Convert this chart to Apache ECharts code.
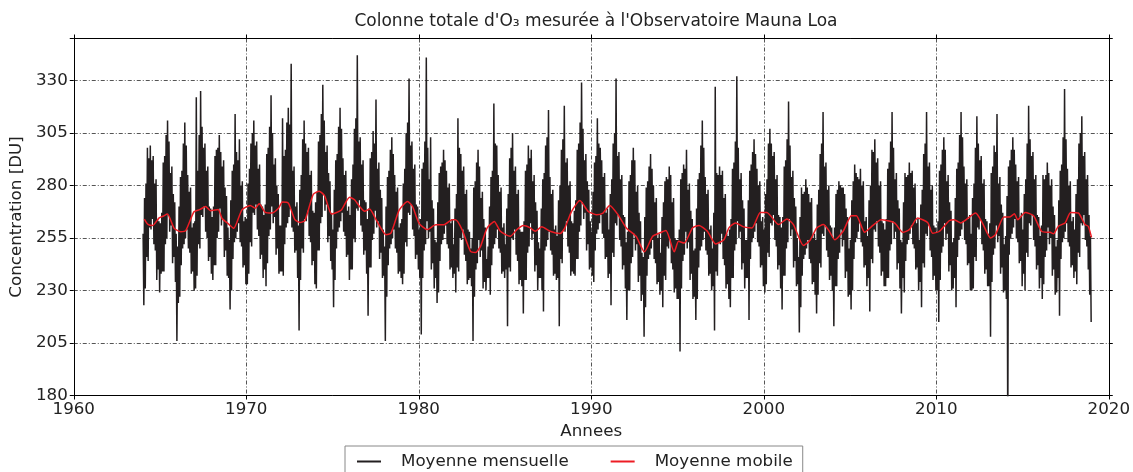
<!DOCTYPE html>
<html><head><meta charset="utf-8">
<script src="https://cdn.jsdelivr.net/npm/echarts@6/dist/echarts.min.js"></script>
<style>html,body{margin:0;padding:0;background:#fff}#c{width:1133px;height:472px}</style>
</head><body><div id="c"></div><script>
const xTickLabels = [1960, 1970, 1980, 1990, 2000, 2010, 2020];
const yTickLabels = [180, 205, 230, 255, 280, 305, 330];
const firstYear = 1964;
const pointsPerYear = 24;
// "Moyenne mensuelle" (black): 24 readings per year, 1964 -> 2018
const monthlyValues = [
/*1964*/ 257,223, 274,231, 281,246, 298,244, 293,260, 299,259, 292,264, 294,252, 281,249, 283,235, 264,240, 263,229,
/*1965*/ 262,238, 267,239, 291,239, 294,252, 304,255, 311,266, 301,258, 286,261, 289,243, 276,246, 272,234, 257,206,
/*1966*/ 251,224, 270,227, 284,242, 287,250, 300,252, 310,255, 299,259, 285,250, 277,248, 279,238, 260,239, 262,230,
/*1967*/ 263,231, 322,237, 287,252, 304,250, 325,266, 308,265, 298,270, 300,258, 287,255, 289,244, 270,246, 269,238,
/*1968*/ 265,235, 270,242, 294,242, 297,255, 298,258, 304,269, 296,261, 289,264, 292,246, 279,249, 275,237, 260,236,
/*1969*/ 254,221, 273,230, 287,245, 290,253, 314,255, 296,258, 292,262, 302,253, 280,251, 282,241, 263,242, 265,233,
/*1970*/ 264,233, 281,238, 288,253, 300,251, 305,267, 311,266, 299,271, 301,259, 288,256, 290,245, 271,247, 270,236,
/*1971*/ 266,240, 271,232, 295,243, 298,256, 308,259, 323,270, 305,262, 290,265, 293,247, 280,250, 276,238, 261,239,
/*1972*/ 261,239, 312,237, 294,252, 297,260, 310,262, 317,265, 309,269, 338,260, 287,258, 289,248, 270,249, 272,236,
/*1973*/ 261,211, 278,235, 285,250, 302,248, 311,264, 300,263, 296,268, 298,256, 285,253, 287,242, 268,244, 267,233,
/*1974*/ 272,231, 277,249, 301,249, 304,262, 314,265, 328,276, 311,268, 296,271, 299,253, 286,256, 282,244, 267,240,
/*1975*/ 259,222, 278,235, 292,250, 295,258, 308,260, 317,263, 307,267, 293,258, 285,256, 287,246, 268,247, 270,235,
/*1976*/ 266,240, 283,240, 290,255, 307,253, 312,269, 342,268, 301,273, 303,261, 290,258, 292,247, 273,249, 272,238,
/*1977*/ 264,218, 269,241, 293,241, 296,254, 306,257, 300,268, 321,260, 288,263, 291,245, 278,248, 274,236, 259,237,
/*1978*/ 251,206, 270,227, 284,242, 287,250, 297,252, 303,255, 295,259, 285,250, 277,248, 279,238, 260,239, 262,236,
/*1979*/ 264,233, 281,238, 288,253, 305,251, 310,267, 331,266, 299,271, 301,259, 288,256, 290,245, 271,247, 270,240,
/*1980*/ 259,236, 264,209, 288,236, 291,249, 301,252, 341,263, 298,255, 283,258, 303,240, 273,243, 269,231, 254,236,
/*1981*/ 253,224, 272,229, 286,244, 289,252, 291,254, 297,257, 292,261, 287,252, 279,250, 281,240, 262,241, 264,236,
/*1982*/ 252,238, 269,229, 276,241, 312,239, 298,255, 295,254, 287,259, 289,247, 276,244, 278,233, 259,235, 258,236,
/*1983*/ 250,232, 255,206, 279,227, 282,240, 291,243, 297,254, 289,246, 274,249, 277,231, 264,234, 260,230, 245,236,
/*1984*/ 251,236, 270,228, 284,242, 287,250, 319,252, 300,255, 299,259, 285,250, 277,248, 279,238, 260,239, 262,236,
/*1985*/ 252,240, 269,213, 276,241, 293,239, 298,255, 305,254, 287,259, 289,247, 276,244, 278,233, 259,235, 258,232,
/*1986*/ 258,219, 263,235, 287,235, 290,248, 299,251, 293,262, 297,254, 282,257, 285,239, 272,242, 268,230, 253,236,
/*1987*/ 250,236, 269,230, 283,220, 286,249, 299,251, 303,254, 316,258, 284,249, 276,247, 278,237, 259,238, 261,235,
/*1988*/ 256,236, 273,213, 280,245, 297,243, 302,259, 318,258, 291,263, 293,251, 280,248, 282,237, 263,239, 262,238,
/*1989*/ 268,237, 273,245, 297,245, 300,258, 310,261, 329,272, 307,264, 292,267, 295,249, 282,252, 278,240, 263,241,
/*1990*/ 258,237, 277,234, 291,249, 294,257, 312,259, 300,262, 298,266, 292,257, 284,255, 286,245, 267,246, 269,236,
/*1991*/ 259,238, 276,223, 283,248, 300,246, 305,262, 331,261, 294,266, 296,254, 283,251, 285,240, 266,242, 265,231,
/*1992*/ 253,216, 258,230, 282,230, 285,243, 292,246, 298,257, 292,249, 277,252, 280,234, 267,237, 263,225, 248,228,
/*1993*/ 246,208, 265,222, 279,237, 282,245, 289,247, 295,250, 288,254, 280,245, 272,243, 274,233, 255,234, 257,228,
/*1994*/ 248,230, 265,222, 272,237, 282,235, 284,251, 283,250, 289,255, 285,243, 272,240, 274,229, 255,231, 254,226,
/*1995*/ 254,226, 259,201, 283,231, 286,244, 290,247, 288,258, 297,250, 278,253, 281,235, 268,238, 264,226, 249,227,
/*1996*/ 250,216, 269,226, 283,241, 286,249, 299,251, 311,254, 298,258, 284,249, 276,247, 278,237, 259,238, 261,230,
/*1997*/ 250,232, 267,211, 327,239, 286,237, 285,253, 289,252, 285,257, 287,245, 274,242, 276,231, 257,233, 256,226,
/*1998*/ 259,222, 264,236, 288,236, 291,249, 301,252, 332,263, 298,255, 283,258, 286,240, 273,243, 269,231, 254,236,
/*1999*/ 254,236, 273,216, 287,245, 290,253, 296,255, 302,258, 295,262, 288,253, 280,251, 282,241, 263,242, 265,232,
/*2000*/ 259,229, 276,233, 283,248, 300,246, 307,262, 300,261, 294,266, 296,254, 283,251, 285,240, 266,242, 265,231,
/*2001*/ 260,221, 265,237, 289,237, 292,250, 302,253, 320,264, 299,256, 284,259, 287,241, 274,244, 270,232, 255,233,
/*2002*/ 246,210, 265,222, 279,237, 276,245, 277,247, 283,250, 279,254, 276,245, 272,243, 274,233, 255,234, 257,228,
/*2003*/ 254,219, 271,228, 278,243, 295,241, 300,257, 315,256, 289,261, 291,249, 278,246, 280,235, 261,237, 260,230,
/*2004*/ 255,213, 260,232, 276,232, 278,245, 282,248, 280,259, 279,251, 279,254, 276,236, 269,239, 265,227, 250,228,
/*2005*/ 254,221, 273,230, 282,245, 290,253, 286,255, 284,258, 283,262, 288,253, 280,251, 282,241, 263,242, 265,232,
/*2006*/ 256,236, 273,220, 280,245, 297,243, 296,259, 302,258, 291,263, 293,251, 280,248, 282,237, 263,239, 262,232,
/*2007*/ 259,232, 264,236, 288,236, 291,249, 301,252, 315,263, 298,255, 283,258, 286,240, 273,243, 269,231, 254,219,
/*2008*/ 253,236, 272,229, 286,244, 284,252, 285,254, 291,257, 286,261, 287,252, 279,250, 281,240, 262,241, 264,230,
/*2009*/ 254,234, 271,222, 278,243, 295,241, 300,257, 315,256, 289,261, 291,249, 278,246, 280,235, 261,237, 260,230,
/*2010*/ 258,230, 263,215, 287,235, 290,248, 297,251, 303,262, 297,254, 282,257, 285,239, 272,242, 268,230, 253,231,
/*2011*/ 255,236, 274,222, 288,246, 291,254, 304,256, 315,259, 303,263, 289,254, 281,252, 283,242, 264,243, 266,230,
/*2012*/ 257,230, 274,231, 281,246, 298,244, 313,260, 300,259, 292,264, 294,252, 281,249, 283,238, 264,240, 263,232,
/*2013*/ 257,232, 262,208, 286,234, 289,247, 299,250, 296,261, 314,253, 281,256, 284,238, 271,241, 267,229, 252,230,
/*2014*/ 256,226, 275,160, 289,247, 292,255, 297,257, 303,260, 297,264, 290,255, 282,253, 284,243, 265,244, 267,232,
/*2015*/ 259,238, 276,230, 283,248, 300,246, 318,262, 302,261, 294,266, 296,254, 283,251, 285,240, 266,242, 265,231,
/*2016*/ 256,236, 261,226, 285,233, 283,246, 285,249, 291,260, 286,252, 280,255, 283,237, 270,240, 266,228, 251,229,
/*2017*/ 254,236, 273,218, 287,245, 290,253, 303,255, 326,258, 302,262, 288,253, 280,251, 282,241, 263,242, 265,236,
/*2018*/ 259,239, 276,233, 283,248, 300,246, 305,262, 313,261, 294,266, 296,254, 283,251, 285,240, 266,228, 256,215
];
// "Moyenne mobile" (red)
const mobileYears = [
1964.09,1964.3,1964.57,1964.95,1965.2,1965.43,1965.82,1966.2,1966.49,1966.97,1967.3,1967.64,1967.93,1968.37,1968.6,1969.0,1969.27,1969.75,
1970.23,1970.52,1970.75,1971.1,1971.48,1971.87,1972.1,1972.44,1972.82,1973.11,1973.4,1973.88,1974.23,1974.55,1974.94,1975.2,1975.51,1975.99,
1976.28,1976.57,1976.86,1977.15,1977.53,1978.1,1978.39,1978.87,1979.35,1979.64,1980.02,1980.5,1980.98,1981.46,1981.94,1982.13,1982.51,1983.0,
1983.29,1983.58,1983.96,1984.38,1984.73,1985.3,1985.69,1986.07,1986.46,1986.75,1987.13,1987.61,1988.19,1988.47,1988.86,1989.34,1989.82,1990.3,
1990.68,1991.07,1991.55,1992.03,1992.6,1993.08,1993.56,1993.95,1994.33,1994.81,1995.06,1995.39,1995.87,1996.25,1996.73,1997.21,1997.69,1997.98,
1998.36,1998.84,1999.32,1999.8,2000.18,2000.86,2001.34,2001.72,2002.3,2002.68,2003.07,2003.45,2003.74,2004.12,2004.6,2005.08,2005.37,2005.85,
2006.23,2006.81,2007.58,2008.06,2008.44,2008.92,2009.5,2009.79,2010.17,2010.75,2011.04,2011.42,2012.28,2012.67,2013.15,2013.43,2013.92,2014.26,
2014.53,2014.72,2015.16,2015.64,2016.12,2016.6,2016.8,2017.08,2017.47,2017.79,2018.24,2018.62,2018.81,2019.0
];
const mobileValues = [
264.0,261.5,261.0,264.6,265.5,266.4,259.6,258.0,258.5,267.5,268.5,270.0,268.0,268.6,264.3,261.5,259.6,268.4,
270.5,269.2,271.3,267.2,266.9,269.2,272.1,271.6,263.7,262.4,263.3,275.7,277.3,275.0,266.4,267.0,268.3,274.4,
273.2,270.0,267.7,268.8,263.7,256.6,257.3,268.4,272.4,270.0,262.0,259.0,261.3,261.3,263.7,263.7,259.0,248.6,
248.1,251.0,259.7,262.9,258.2,255.8,259.0,260.9,259.8,258.2,260.3,258.2,257.1,259.8,267.7,272.8,267.7,266.1,
266.9,270.5,266.1,259.8,255.8,248.4,255.8,257.4,258.6,248.4,253.4,252.6,259.8,261.0,258.2,252.2,254.2,259.8,
262.2,260.3,259.8,267.2,267.2,261.4,264.1,261.4,251.4,253.9,259.8,261.4,259.0,254.2,258.2,265.6,265.6,257.7,
260.3,263.7,262.2,257.7,259.0,264.5,262.4,257.3,258.1,263.2,263.7,262.2,266.9,262.2,255.0,256.6,265.0,265.0,
266.6,263.7,267.2,265.6,258.1,257.7,257.0,260.6,262.2,267.2,266.9,261.4,260.6,255.3
];

const blackData = monthlyValues.map((v, i) => [firstYear + (i + 0.5) / pointsPerYear, v]);
const redData = mobileYears.map((y, i) => [y, mobileValues[i]]);

const FONT = 'DejaVu Sans';
const FS = 16.7;
const TXT = '#222';
const gridDash = [4, 2, 1, 2];
const chart = echarts.init(document.getElementById('c'), null, {renderer: 'canvas'});

const baseAxis = {
  axisLine: {show: true, onZero: false, lineStyle: {color: '#000', width: 1}},
  axisTick: {show: true, inside: false, length: 4, lineStyle: {color: '#000', width: 1}},
};

chart.setOption({
  animation: false,
  backgroundColor: '#fff',
  title: {
    text: "Colonne totale d'O₃ mesurée à l'Observatoire Mauna Loa",
    left: 591, top: 8, textAlign: 'center',
    textStyle: {fontFamily: FONT, fontSize: 17, fontWeight: 'normal', color: TXT}
  },
  grid: {left: 70.5, right: 21, top: 38.5, bottom: 76.5, containLabel: false},
  legend: {
    left: 345, top: 446, orient: 'horizontal',
    padding: [7, 10, 12, 12], itemGap: 42, itemWidth: 24, itemHeight: 2,
    borderColor: '#888', borderWidth: 1, borderRadius: 0, backgroundColor: '#fff',
    textStyle: {fontFamily: FONT, fontSize: FS, color: TXT, padding: [0, 0, 0, 15]},
    data: [{name: 'Moyenne mensuelle', icon: 'rect'}, {name: 'Moyenne mobile', icon: 'rect'}]
  },
  xAxis: [
    Object.assign({}, baseAxis, {
      type: 'value', min: 1960, max: 2020, interval: 10, position: 'bottom',
      name: 'Annees', nameLocation: 'middle', nameGap: 24,
      nameTextStyle: {fontFamily: FONT, fontSize: FS, color: TXT},
      axisLabel: {margin: 6, fontFamily: FONT, fontSize: FS, color: TXT,
        formatter: v => xTickLabels.includes(v) ? String(v) : ''},
      splitLine: {show: true, lineStyle: {color: '#555', type: gridDash, width: 1}}
    }),
    Object.assign({}, baseAxis, {
      type: 'value', min: 1960, max: 2020, interval: 10, position: 'top',
      axisLabel: {show: false}, splitLine: {show: false}
    })
  ],
  yAxis: [
    Object.assign({}, baseAxis, {
      type: 'value', min: 180, max: 350, interval: 25, position: 'left',
      name: 'Concentration [DU]', nameLocation: 'middle', nameGap: 44,
      nameTextStyle: {fontFamily: FONT, fontSize: FS, color: TXT},
      axisLabel: {margin: 6, fontFamily: FONT, fontSize: FS, color: TXT,
        formatter: v => yTickLabels.includes(v) ? String(v) : ''},
      splitLine: {show: true, lineStyle: {color: '#555', type: gridDash, width: 1}}
    }),
    Object.assign({}, baseAxis, {
      type: 'value', min: 180, max: 350, interval: 25, position: 'right',
      axisLabel: {show: false}, splitLine: {show: false}
    })
  ],
  series: [
    {name: 'Moyenne mensuelle', type: 'line', data: blackData, xAxisIndex: 0, yAxisIndex: 0,
     symbol: 'none', showSymbol: false, clip: true,
     lineStyle: {color: '#231f20', width: 1.5}, itemStyle: {color: '#231f20'}},
    {name: 'Moyenne mobile', type: 'line', data: redData, xAxisIndex: 0, yAxisIndex: 0,
     symbol: 'none', showSymbol: false, smooth: 0.2, clip: true,
     lineStyle: {color: '#ed1c24', width: 1.5}, itemStyle: {color: '#ed1c24'}}
  ]
});
</script></body></html>
